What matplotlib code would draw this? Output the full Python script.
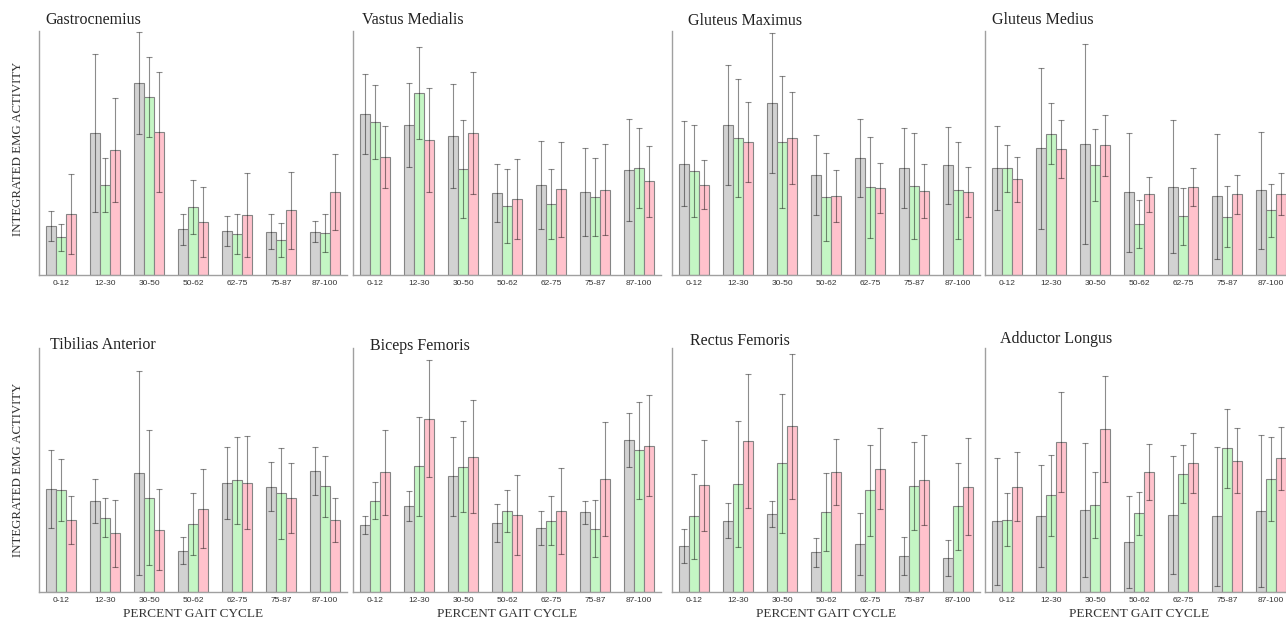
import numpy as np
import matplotlib
matplotlib.use("Agg")
import matplotlib.pyplot as plt

# ======== data (bar height / error as % of axis height) ========
phases = ['0-12', '12-30', '30-50', '50-62', '62-75', '75-87', '87-100']
muscles = ['Gastrocnemius', 'Vastus Medialis', 'Gluteus Maximus', 'Gluteus Medius',
           'Tibilias Anterior', 'Biceps Femoris', 'Rectus Femoris', 'Adductor Longus']

gray_mean = [
    [20.1, 58.1, 78.8, 18.7, 18.0, 17.8, 17.8],
    [65.8, 61.5, 57.0, 33.7, 36.9, 34.0, 43.0],
    [45.6, 61.5, 70.4, 41.1, 48.1, 44.0, 44.9],
    [43.7, 51.9, 53.7, 33.9, 36.2, 32.2, 34.7],
    [42.2, 37.3, 48.8, 17.0, 44.7, 43.2, 49.6],
    [27.4, 35.3, 47.4, 28.4, 26.2, 32.7, 62.2],
    [18.8, 29.3, 31.8, 16.2, 19.6, 14.7, 14.1],
    [29.0, 31.1, 33.6, 20.5, 31.5, 31.1, 33.2],
]
gray_err = [
    [6.1, 32.4, 20.9, 6.3, 6.1, 7.1, 4.2],
    [16.4, 17.1, 21.4, 11.9, 18.2, 18.2, 20.8],
    [17.5, 24.6, 28.6, 16.4, 16.0, 16.4, 15.7],
    [17.2, 33.1, 41.0, 24.3, 27.3, 25.7, 24.0],
    [15.8, 9.0, 41.8, 5.5, 14.8, 9.9, 9.9],
    [3.6, 6.0, 16.3, 7.8, 7.1, 4.7, 11.1],
    [7.1, 7.1, 5.3, 5.8, 12.6, 7.8, 7.4],
    [26.0, 21.0, 27.5, 18.8, 24.1, 28.5, 31.1],
]
green_mean = [
    [15.4, 36.9, 72.8, 27.9, 16.8, 14.3, 17.2],
    [62.6, 74.6, 43.6, 28.3, 29.1, 32.0, 44.0],
    [42.5, 56.1, 54.5, 32.0, 35.9, 36.3, 34.8],
    [43.7, 57.9, 45.1, 21.0, 24.0, 23.9, 26.5],
    [41.8, 30.5, 38.6, 27.9, 45.8, 40.4, 43.3],
    [37.5, 51.6, 51.4, 33.0, 29.3, 26.0, 58.1],
    [31.1, 44.1, 52.7, 32.9, 41.6, 43.4, 35.1],
    [29.7, 39.6, 35.6, 32.3, 48.4, 59.0, 46.2],
]
green_err = [
    [5.7, 11.1, 16.4, 11.1, 8.2, 7.0, 7.9],
    [15.2, 18.7, 20.1, 15.3, 14.5, 16.0, 16.4],
    [18.9, 24.3, 27.2, 17.9, 20.6, 21.7, 19.9],
    [9.6, 12.6, 14.6, 9.8, 11.7, 12.4, 10.9],
    [12.6, 8.1, 27.7, 12.7, 17.9, 18.6, 12.6],
    [7.4, 20.3, 18.8, 8.6, 10.0, 11.8, 19.9],
    [17.4, 25.8, 28.5, 15.9, 18.8, 17.9, 17.9],
    [10.7, 16.6, 13.4, 8.8, 11.9, 16.2, 17.3],
]
pink_mean = [
    [24.9, 51.1, 58.6, 21.6, 24.7, 26.5, 34.0],
    [48.4, 55.3, 58.3, 31.0, 35.1, 35.0, 38.4],
    [37.0, 54.6, 56.1, 32.4, 35.8, 34.3, 33.9],
    [39.2, 51.6, 53.1, 33.1, 36.1, 33.1, 33.1],
    [29.5, 24.0, 25.6, 34.2, 44.8, 38.4, 29.5],
    [49.0, 71.1, 55.5, 31.4, 33.2, 46.3, 60.0],
    [43.8, 61.8, 67.9, 49.2, 50.5, 45.8, 43.2],
    [43.2, 61.5, 66.7, 49.3, 53.0, 53.8, 54.8],
]
pink_err = [
    [16.3, 21.3, 24.6, 14.3, 17.2, 15.7, 15.4],
    [12.6, 21.3, 25.0, 16.4, 19.4, 18.6, 14.6],
    [10.1, 16.4, 19.0, 10.7, 10.2, 11.1, 10.2],
    [9.2, 11.9, 12.4, 7.1, 7.9, 7.9, 8.6],
    [9.9, 13.6, 16.7, 16.2, 19.0, 14.4, 9.0],
    [17.4, 23.8, 23.2, 16.4, 17.8, 23.4, 20.8],
    [18.6, 27.4, 29.7, 13.7, 16.6, 18.5, 19.9],
    [14.0, 20.5, 21.8, 11.4, 12.3, 13.3, 13.0],
]

# ======== layout (pixels of a 1286x621 picture) ========
W, H = 1286, 621
lefts = [39, 353, 672, 985]
row_bottom = [275, 592]
ax_w, ax_h = 308, 244
title_pos = [(45, 20), (362, 20), (688, 21), (992, 20),
             (50, 345), (370, 346), (690, 341), (1000, 339)]

colors = ['#d2d2d2', '#c4f6c4', '#ffc2cc']
serif = ['Liberation Serif', 'DejaVu Serif']
sans = ['Liberation Sans', 'DejaVu Sans']

fig = plt.figure(figsize=(W / 100, H / 100), dpi=100)
x = np.arange(len(phases))
bw = 10 / 44

for i, name in enumerate(muscles):
    row, col = divmod(i, 4)
    ax = fig.add_axes([lefts[col] / W, 1 - row_bottom[row] / H, ax_w / W, ax_h / H])
    series = [(gray_mean[i], gray_err[i]), (green_mean[i], green_err[i]), (pink_mean[i], pink_err[i])]
    for k, (m, e) in enumerate(series):
        ax.bar(x + (k - 1) * bw, m, bw, yerr=e, color=colors[k], edgecolor='#858585',
               linewidth=0.8, ecolor=(0, 0, 0, 0.45),
               error_kw=dict(elinewidth=0.8, capsize=2.2, capthick=0.8))
    ax.set_xlim(-0.5, 6.5)
    ax.set_ylim(0, 100)
    ax.set_yticks([])
    ax.set_xticks(x)
    ax.set_xticklabels(phases, fontsize=6, family=sans, color='#333333')
    ax.tick_params(axis='x', length=0, pad=3.5)
    for s in ['top', 'right']:
        ax.spines[s].set_visible(False)
    for s in ['left', 'bottom']:
        ax.spines[s].set_color('#a0a0a0')
        ax.spines[s].set_linewidth(1.0)
    ax.patch.set_alpha(0)

    tx, ty = title_pos[i]
    fig.text(tx / W, 1 - ty / H, name, fontsize=11.5, family=serif, color='#222222',
             ha='left', va='center')
    if row == 1:
        fig.text((lefts[col] + ax_w / 2) / W, 1 - 614 / H, 'PERCENT GAIT CYCLE',
                 fontsize=9.5, family=serif, color='#333333', ha='center', va='center')

for yc in [149, 470]:
    fig.text(18 / W, 1 - yc / H, 'INTEGRATED EMG ACTIVITY', fontsize=9.3, family=serif,
             color='#333333', rotation=90, ha='center', va='center')

plt.savefig('out.png', dpi=100)
